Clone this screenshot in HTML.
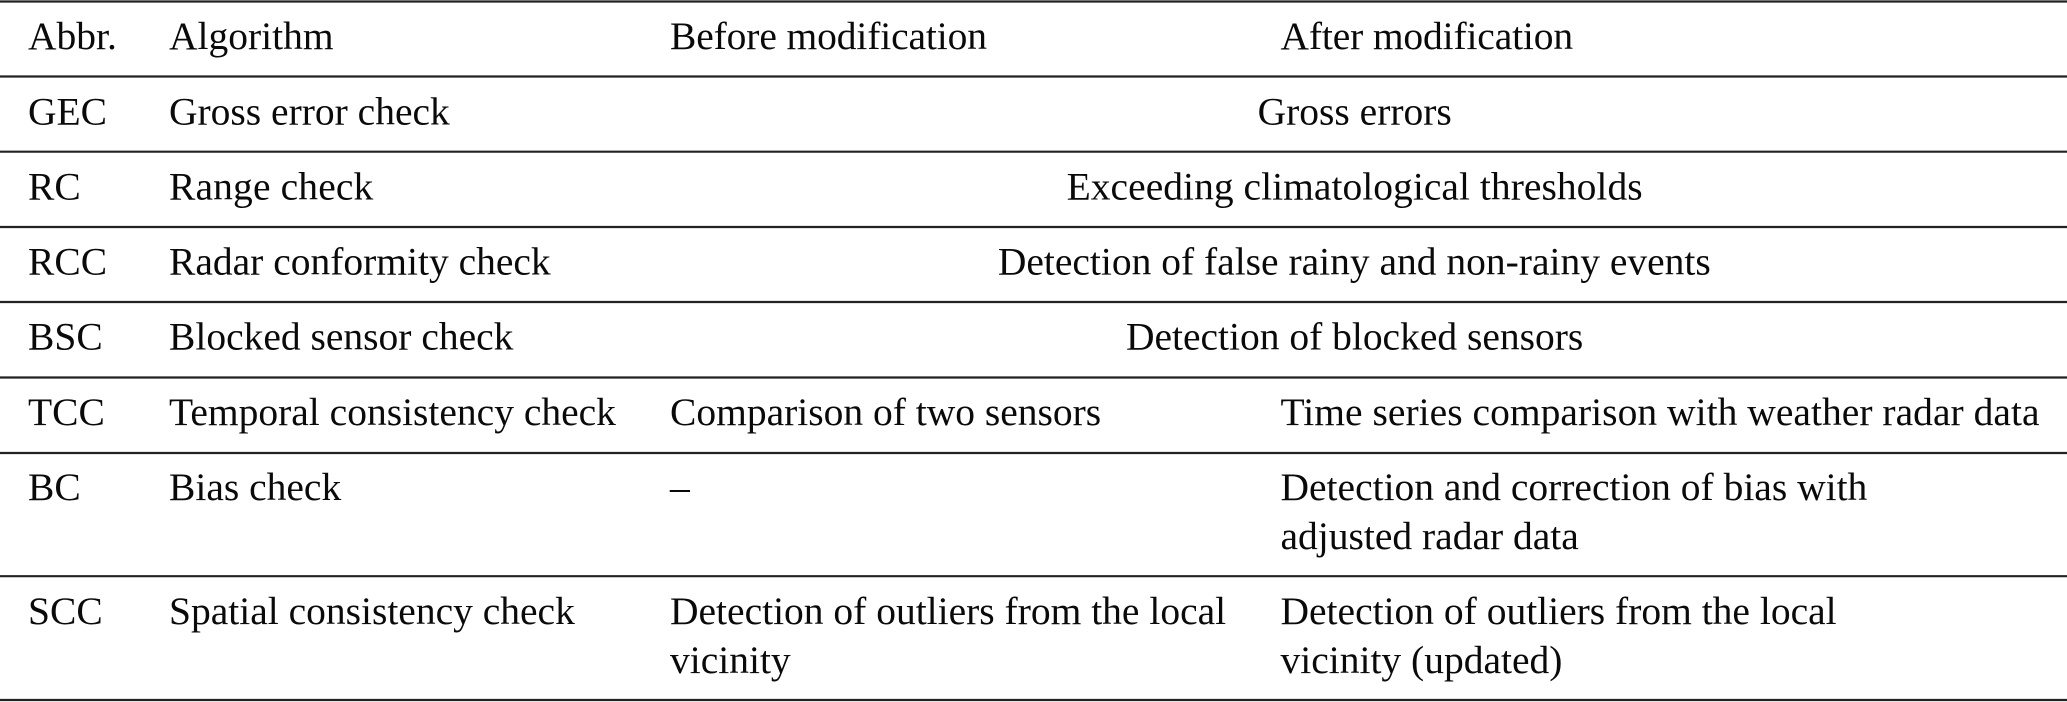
<!DOCTYPE html>
<html><head><meta charset="utf-8"><style>
html,body{margin:0;padding:0;background:#fff;width:2067px;height:702px;overflow:hidden}
svg{display:block}
text{font-family:"Liberation Serif",serif;font-size:39.5px;fill:#0a0a0a}
line{stroke:#222;stroke-width:2.2}
</style></head><body>
<svg width="2067" height="702" viewBox="0 0 2067 702" xmlns="http://www.w3.org/2000/svg">
<line x1="0" x2="2067" y1="1.5" y2="1.5"/>
<line x1="0" x2="2067" y1="76.5" y2="76.5"/>
<line x1="0" x2="2067" y1="151.7" y2="151.7"/>
<line x1="0" x2="2067" y1="227" y2="227"/>
<line x1="0" x2="2067" y1="302" y2="302"/>
<line x1="0" x2="2067" y1="377.5" y2="377.5"/>
<line x1="0" x2="2067" y1="453" y2="453"/>
<line x1="0" x2="2067" y1="576.2" y2="576.2"/>
<line x1="0" x2="2067" y1="700" y2="700"/>
<text x="28" y="49">Abbr.</text><text x="169" y="49">Algorithm</text><text x="670" y="49" textLength="317">Before modification</text><text x="1280.5" y="49" textLength="292.6">After modification</text>
<text x="28" y="124.5">GEC</text><text x="169" y="124.5">Gross error check</text><text x="1354.7" y="124.5" text-anchor="middle">Gross errors</text>
<text x="28" y="199.5">RC</text><text x="169" y="199.5" textLength="204.3">Range check</text><text x="1354.6" y="199.5" text-anchor="middle" textLength="576">Exceeding climatological thresholds</text>
<text x="28" y="274.5">RCC</text><text x="169" y="274.5">Radar conformity check</text><text x="1354.3" y="274.5" text-anchor="middle">Detection of false rainy and non-rainy events</text>
<text x="28" y="349.5">BSC</text><text x="169" y="349.5">Blocked sensor check</text><text x="1354.6" y="349.5" text-anchor="middle" textLength="457.3">Detection of blocked sensors</text>
<text x="28" y="425">TCC</text><text x="169" y="425">Temporal consistency check</text><text x="670" y="425">Comparison of two sensors</text><text x="1280.5" y="425" textLength="759">Time series comparison with weather radar data</text>
<text x="28" y="500">BC</text><text x="169" y="500">Bias check</text><text x="670" y="500">–</text><text x="1280.5" y="500">Detection and correction of bias with</text><text x="1280.5" y="549">adjusted radar data</text>
<text x="28" y="624">SCC</text><text x="169" y="624">Spatial consistency check</text><text x="670" y="624">Detection of outliers from the local</text><text x="670" y="673">vicinity</text><text x="1280.5" y="624">Detection of outliers from the local</text><text x="1280.5" y="673">vicinity (updated)</text>
</svg>
</body></html>
